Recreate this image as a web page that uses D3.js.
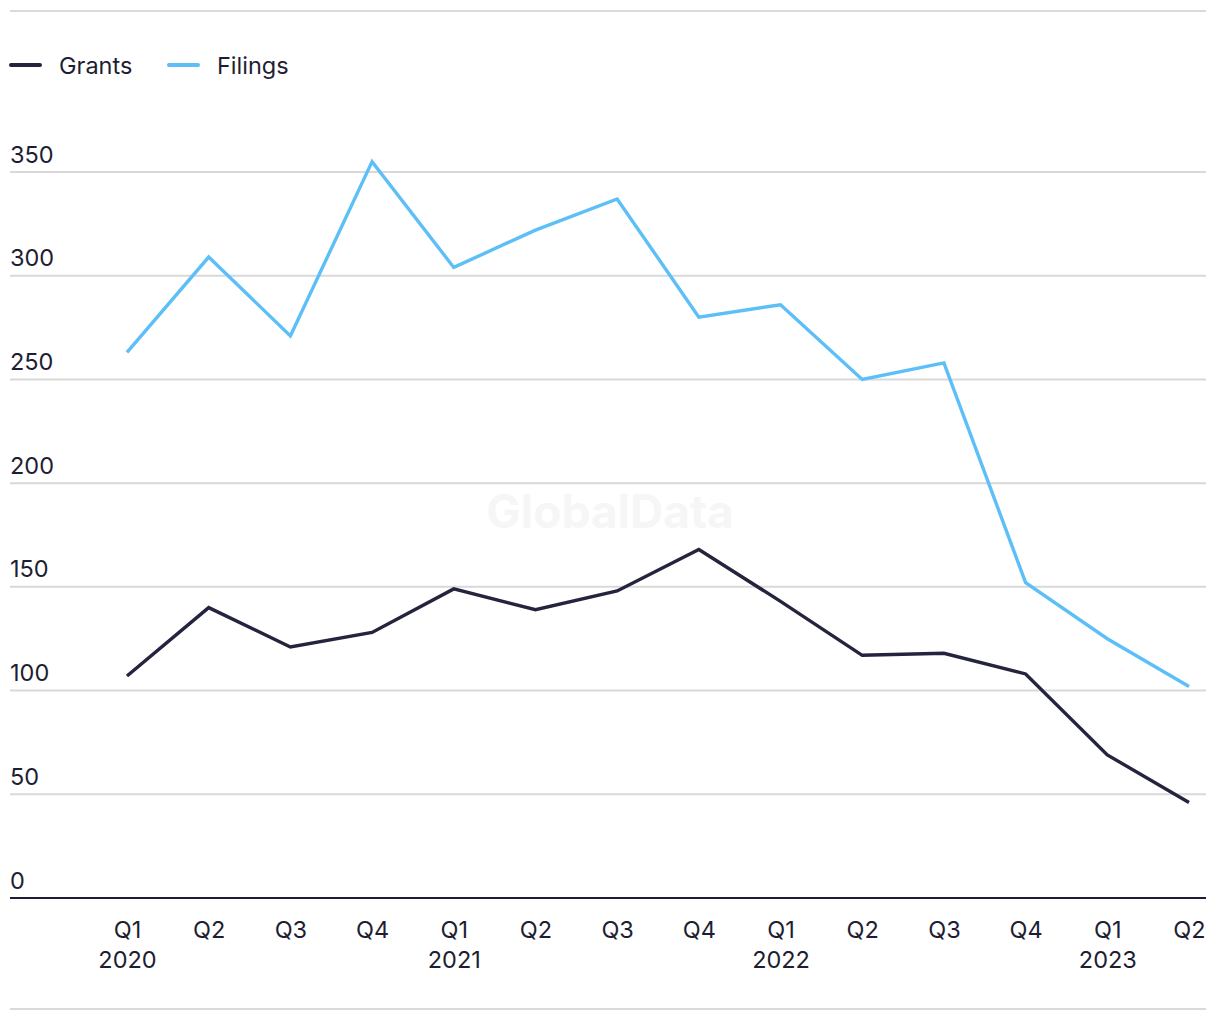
<!DOCTYPE html>
<html>
<head>
<meta charset="utf-8">
<script src="https://cdn.jsdelivr.net/npm/d3@7"></script>
<style>
  html, body { margin: 0; padding: 0; background: #fff; }
  svg { display: block; font-family: Inter, "Liberation Sans", sans-serif; }
</style>
</head>
<body>
<svg id="chart" width="1220" height="1020"></svg>
<script>
const quarters = ["Q1","Q2","Q3","Q4","Q1","Q2","Q3","Q4","Q1","Q2","Q3","Q4","Q1","Q2"];
const years    = ["2020","","","","2021","","","","2022","","","","2023",""];
const grants   = [107,140,121,128,149,139,148,168,143,117,118,108,69,46];
const filings  = [263,309,271,355,304,322,337,280,286,250,258,152,125,102];
const yTicks   = [0,50,100,150,200,250,300,350];
const seriesNames  = ["Grants","Filings"];
const seriesColors = ["#24243f","#5cbff7"];

const svg = d3.select("#chart");
const left = 10, right = 1206;
const textColor = "#1e1e33";
const fontSize = 23.5;
const fontFam = "Inter, 'Liberation Sans', sans-serif";

const idx = d3.range(quarters.length);
const x = d3.scalePoint().domain(idx).range([127, 1189]);
const y = d3.scaleLinear().domain([0, 350]).range([898, 172]);

// top and bottom separators
svg.append("line").attr("x1", left).attr("x2", right).attr("y1", 11).attr("y2", 11)
  .attr("stroke", "#dadada").attr("stroke-width", 2);
svg.append("line").attr("x1", left).attr("x2", right).attr("y1", 1009).attr("y2", 1009)
  .attr("stroke", "#dadada").attr("stroke-width", 2);

// watermark
svg.append("text").attr("x", 610).attr("y", 528).attr("text-anchor", "middle")
  .attr("font-size", 46).attr("font-weight", 700).attr("fill", "#f6f6f6")
  .text("GlobalData");

// gridlines
const gy = svg.append("g");
yTicks.forEach(t => {
  if (t === 0) return;
  gy.append("line").attr("x1", left).attr("x2", right)
    .attr("y1", y(t)).attr("y2", y(t))
    .attr("stroke", "#d9d9d9").attr("stroke-width", 2);
});
// y labels
const yAxis = d3.axisLeft(y).tickValues(yTicks).tickSize(0).tickFormat(d => d);
const gyl = svg.append("g").attr("transform", `translate(${left},0)`).call(yAxis);
gyl.select(".domain").remove();
gyl.selectAll(".tick text")
  .attr("x", 0).attr("dy", -10).attr("text-anchor", "start")
  .attr("font-size", fontSize).attr("fill", textColor).attr("font-family", fontFam);

// baseline
svg.append("line").attr("x1", left).attr("x2", right).attr("y1", y(0)).attr("y2", y(0))
  .attr("stroke", textColor).attr("stroke-width", 2);

// x axis labels
const xAxis = d3.axisBottom(x).tickSize(0).tickFormat(i => quarters[i]);
const gx = svg.append("g").attr("transform", `translate(0,${y(0)})`).call(xAxis);
gx.select(".domain").remove();
gx.selectAll(".tick text")
  .attr("y", 40).attr("dy", 0)
  .attr("font-size", fontSize).attr("fill", textColor).attr("font-family", fontFam);
gx.selectAll(".tick").filter(i => years[i] !== "").append("text")
  .attr("y", 70).attr("text-anchor", "middle")
  .attr("font-size", fontSize).attr("fill", textColor).attr("font-family", fontFam)
  .text(i => years[i]);

// lines
const line = d3.line().x((d, i) => x(i)).y(d => y(d));
[grants, filings].forEach((data, k) => {
  svg.append("path").datum(data).attr("d", line)
    .attr("fill", "none").attr("stroke", seriesColors[k])
    .attr("stroke-width", 3.4).attr("stroke-linejoin", "miter");
});

// legend
const legendX = [10, 168];
seriesNames.forEach((name, k) => {
  const g = svg.append("g").attr("transform", `translate(${legendX[k]},65)`);
  g.append("line").attr("x1", 1).attr("x2", 30).attr("y1", 0).attr("y2", 0)
    .attr("stroke", seriesColors[k]).attr("stroke-width", 4).attr("stroke-linecap", "round");
  g.append("text").attr("x", 49).attr("y", 9).attr("font-size", fontSize)
    .attr("fill", textColor).text(name);
});
</script>
</body>
</html>
